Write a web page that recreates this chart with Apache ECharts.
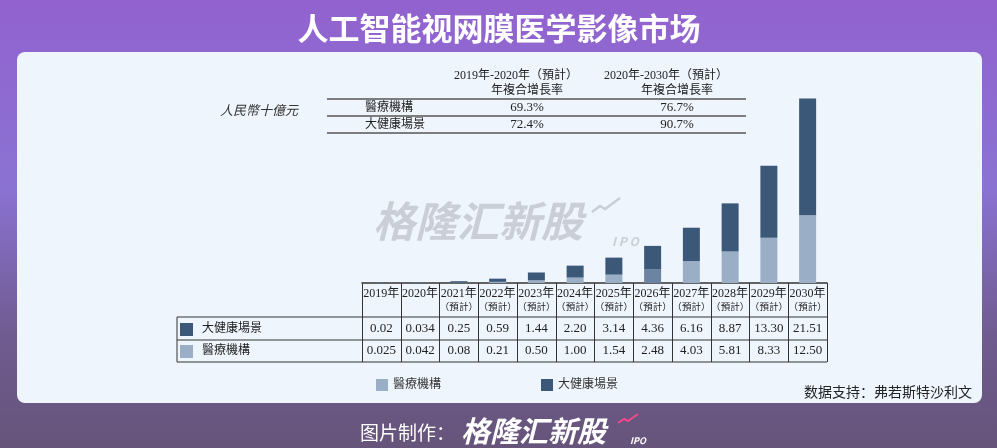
<!DOCTYPE html>
<html lang="zh">
<head>
    <meta charset="UTF-8">
    <title>人工智能视网膜医学影像市场</title>
    <script src="https://cdn.jsdelivr.net/npm/echarts@6/dist/echarts.min.js"></script>
    <style>
        html, body { margin: 0; padding: 0; }
        #main { width: 997px; height: 448px; }
    </style>
</head>
<body>
<div id="main"></div>
<script type="text/javascript">
    // 数据
    var years = ['2019年', '2020年', '2021年\n（預計）', '2022年\n（預計）', '2023年\n（預計）', '2024年\n（預計）',
        '2025年\n（預計）', '2026年\n（預計）', '2027年\n（預計）', '2028年\n（預計）', '2029年\n（預計）', '2030年\n（預計）'];
    var healthText = ['0.02', '0.034', '0.25', '0.59', '1.44', '2.20', '3.14', '4.36', '6.16', '8.87', '13.30', '21.51'];
    var medicalText = ['0.025', '0.042', '0.08', '0.21', '0.50', '1.00', '1.54', '2.48', '4.03', '5.81', '8.33', '12.50'];
    var health = healthText.map(Number);
    var medical = medicalText.map(Number);

    var cagrHead = ['2019年-2020年（預計）', '2020年-2030年（預計）'];
    var cagrRows = ['醫療機構', '大健康場景'];
    var cagrMedical = ['69.3%', '76.7%'];
    var cagrHealth = ['72.4%', '90.7%'];

    var DARK = '#3c5878', LIGHT = '#9aafc6';
    var SERIF = '"Liberation Serif", "Noto Sans CJK TC", serif';
    var SANS = '"Noto Sans CJK SC", sans-serif';

    var myChart = echarts.init(document.getElementById('main'));

    var option = {
        animation: false,
        grid: { left: 362, right: 170, top: 66, bottom: 165 },
        legend: {
            left: 371, top: 374,
            itemWidth: 12, itemHeight: 12, itemGap: 100,
            icon: 'rect',
            textStyle: { color: '#333', fontSize: 12, fontFamily: SERIF },
            data: ['醫療機構', '大健康場景']
        },
        xAxis: {
            type: 'category',
            data: years,
            axisLine: { show: true, lineStyle: { color: '#333', width: 1.5 } },
            axisTick: { show: true, length: 79, lineStyle: { color: '#333', width: 1 } },
            axisLabel: {
                interval: 0, margin: 4, color: '#222', fontFamily: SERIF,
                formatter: function (v) {
                    var p = v.split('\n');
                    return '{y|' + p[0] + '}' + (p[1] ? '\n{f|' + p[1] + '}' : '');
                },
                rich: {
                    y: { fontSize: 12, lineHeight: 14, fontFamily: SERIF, color: '#222' },
                    f: { fontSize: 9.5, lineHeight: 12, fontFamily: SERIF, color: '#222' }
                }
            }
        },
        yAxis: { type: 'value', min: 0, max: 40, show: false, splitLine: { show: false } },
        series: [
            {
                name: '醫療機構', type: 'bar', stack: 'total', barWidth: 17,
                itemStyle: { color: LIGHT },
                data: medical.map(function (v, i) {
                    // 2026年那段原图颜色偏深
                    return i === 7 ? { value: v, itemStyle: { color: '#6d83a2' } } : v;
                })
            },
            {
                name: '大健康場景', type: 'bar', stack: 'total', barWidth: 17,
                itemStyle: { color: DARK },
                data: health
            }
        ]
    };
    myChart.setOption(option);

    // 表格、标题等
    var g = [];
    g.push({
        type: 'rect', z: -20, silent: true,
        shape: { x: 0, y: 0, width: 997, height: 448 },
        style: {
            fill: new echarts.graphic.LinearGradient(0, 0, 0, 1, [
                { offset: 0, color: '#9262cf' },
                { offset: 0.42, color: '#8a72d2' },
                { offset: 0.75, color: '#705b90' },
                { offset: 1, color: '#66547a' }
            ])
        }
    });
    g.push({
        type: 'rect', z: -19, silent: true,
        shape: { x: 17, y: 52, width: 965, height: 351, r: 8 },
        style: { fill: '#eff5fc' }
    });
    g.push({
        type: 'text', x: 499, y: 28, z: 5,
        style: { text: '人工智能视网膜医学影像市场', fill: '#fff', font: 'bold 31px ' + SANS, align: 'center', verticalAlign: 'middle' }
    });
    // 水印
    g.push({
        type: 'text', x: 373, y: 221, z: -5,
        style: { text: '格隆汇新股', fill: '#caced6', font: 'italic bold 42px ' + SANS, verticalAlign: 'middle' }
    });
    g.push({
        type: 'text', x: 612, y: 241, z: -5,
        style: { text: 'I P O', fill: '#caced6', font: 'italic bold 12px ' + SANS, verticalAlign: 'middle' }
    });
    g.push({
        type: 'polyline', z: -5,
        shape: { points: [[592, 212], [600, 206], [605, 209], [620, 198]] },
        style: { stroke: '#caced6', lineWidth: 2.5, fill: null }
    });

    // 复合增长率表
    g.push({
        type: 'text', x: 220, y: 112,
        style: { text: '人民幣十億元', fill: '#333', font: 'italic 13px ' + SERIF, verticalAlign: 'middle' }
    });
    var cagrX = [516, 666], cagrValX = [527, 677];
    cagrHead.forEach(function (h, i) {
        g.push({ type: 'text', x: cagrX[i], y: 76, style: { text: h, fill: '#222', font: '12px ' + SERIF, align: 'center', verticalAlign: 'middle' } });
        g.push({ type: 'text', x: cagrValX[i], y: 91, style: { text: '年複合增長率', fill: '#222', font: '12px ' + SERIF, align: 'center', verticalAlign: 'middle' } });
        g.push({ type: 'text', x: cagrValX[i], y: 107.5, style: { text: cagrMedical[i], fill: '#222', font: '13px ' + SERIF, align: 'center', verticalAlign: 'middle' } });
        g.push({ type: 'text', x: cagrValX[i], y: 124.5, style: { text: cagrHealth[i], fill: '#222', font: '13px ' + SERIF, align: 'center', verticalAlign: 'middle' } });
    });
    cagrRows.forEach(function (r, i) {
        g.push({ type: 'text', x: 365, y: 107.5 + i * 17, style: { text: r, fill: '#222', font: '12px ' + SERIF, verticalAlign: 'middle' } });
    });
    [99, 116, 133].forEach(function (y) {
        g.push({ type: 'line', shape: { x1: 327, y1: y, x2: 746, y2: y }, style: { stroke: '#555', lineWidth: 1.5 } });
    });

    // 数据表
    var tl = 177, tr = 827;
    [317, 340, 362].forEach(function (y) {
        g.push({ type: 'line', shape: { x1: tl, y1: y, x2: tr, y2: y }, style: { stroke: '#333', lineWidth: 1 } });
    });
    g.push({ type: 'line', shape: { x1: tl, y1: 317, x2: tl, y2: 362 }, style: { stroke: '#333', lineWidth: 1 } });
    g.push({ type: 'rect', shape: { x: 180, y: 323, width: 13, height: 13 }, style: { fill: DARK } });
    g.push({ type: 'rect', shape: { x: 180, y: 345, width: 13, height: 13 }, style: { fill: LIGHT } });
    g.push({ type: 'text', x: 202, y: 328.5, style: { text: '大健康場景', fill: '#222', font: '12px ' + SERIF, verticalAlign: 'middle' } });
    g.push({ type: 'text', x: 202, y: 351, style: { text: '醫療機構', fill: '#222', font: '12px ' + SERIF, verticalAlign: 'middle' } });
    years.forEach(function (yr, i) {
        var cx = myChart.convertToPixel({ xAxisIndex: 0 }, i);
        g.push({ type: 'text', x: cx, y: 328.5, style: { text: healthText[i], fill: '#222', font: '13px ' + SERIF, align: 'center', verticalAlign: 'middle' } });
        g.push({ type: 'text', x: cx, y: 351, style: { text: medicalText[i], fill: '#222', font: '13px ' + SERIF, align: 'center', verticalAlign: 'middle' } });
    });

    g.push({
        type: 'text', x: 972, y: 392,
        style: { text: '数据支持：弗若斯特沙利文', fill: '#222', font: '14px ' + SANS, align: 'right', verticalAlign: 'middle' }
    });

    // 底部
    g.push({
        type: 'text', x: 360, y: 433,
        style: { text: '图片制作：', fill: '#fff', font: '19px ' + SANS, verticalAlign: 'middle' }
    });
    g.push({
        type: 'text', x: 461, y: 431,
        style: { text: '格隆汇新股', fill: '#fff', font: 'italic bold 29px ' + SANS, verticalAlign: 'middle' }
    });
    g.push({
        type: 'text', x: 630, y: 441,
        style: { text: 'IPO', fill: '#fff', font: 'italic bold 9px ' + SANS, verticalAlign: 'middle' }
    });
    g.push({
        type: 'polyline',
        shape: { points: [[618, 423], [624, 419], [628, 421], [638, 414]] },
        style: { stroke: '#f04a8a', lineWidth: 2, fill: null }
    });

    myChart.setOption({ graphic: { elements: g } });
</script>
</body>
</html>
